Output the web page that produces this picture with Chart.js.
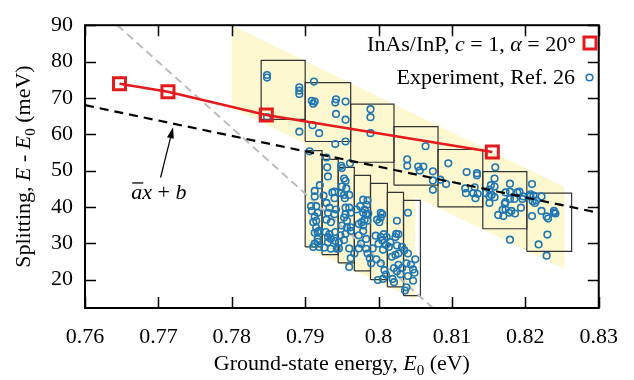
<!DOCTYPE html>
<html>
<head>
<meta charset="utf-8">
<script src="https://cdn.jsdelivr.net/npm/chart.js@4.4.1/dist/chart.umd.min.js"></script>
<style>
  html, body { margin: 0; padding: 0; background: #fff; }
</style>
</head>
<body>
<canvas id="chart" width="634" height="380"></canvas>
<script>
// axis ticks
const xTickVals = [0.76, 0.77, 0.78, 0.79, 0.80, 0.81, 0.82, 0.83];
const xTickLabels = ['0.76', '0.77', '0.78', '0.79', '0.8', '0.81', '0.82', '0.83'];
const yTickVals = [20, 30, 40, 50, 60, 70, 80, 90];

// model: InAs/InP, c = 1, alpha = 20 deg
const modelE0 = [0.7647, 0.7713, 0.7847, 0.8155];
const modelSplit = [73.9, 71.7, 65.3, 55.1];

// fit line  a x + b  and the grey guide line
const fitE0 = [0.76, 0.83];
const fitSplit = [68.0, 38.4];
const guideE0 = [0.7644, 0.8074];
const guideSplit = [90, 12.2];

// shaded bands (corners)
const bandUpperE0 = [0.78, 0.8253, 0.8253, 0.78, 0.78];
const bandUpperSplit = [90, 45.5, 22.9, 67.3, 90];
const bandLowerE0 = [0.79, 0.8050, 0.8050, 0.79, 0.79];
const bandLowerSplit = [58, 45, 14.5, 29.0, 58];

// boxes
const upperBoxEdges = [0.7840, 0.7900, 0.7962, 0.8021, 0.8081, 0.8142, 0.8202, 0.8263];
const upperBoxLow = [64.1, 58.0, 52.3, 46.0, 40.0, 34.0, 27.8];
const upperBoxHigh = [80.3, 74.2, 68.3, 62.1, 55.8, 49.7, 43.8];
const lowerBoxEdges = [0.7900, 0.7923, 0.7945, 0.7967, 0.7989, 0.8012, 0.8034, 0.8057];
const lowerBoxLow = [29.0, 26.9, 24.6, 22.4, 20.0, 18.0, 15.6];
const lowerBoxHigh = [55.5, 53.1, 50.9, 48.7, 46.5, 44.0, 41.8];

// experiment, Ref. 26
const expE0 = [
  0.7848, 0.7848, 0.7892, 0.7892, 0.7892, 0.7848, 0.7892,
  0.7912, 0.7909, 0.7911, 0.7913, 0.7942, 0.7941, 0.7955, 0.7942, 0.7955, 0.7910, 0.7919, 0.7941, 0.7955,
  0.7989, 0.7989, 0.7989,
  0.8064, 0.8039, 0.8039, 0.8054, 0.8061, 0.8056, 0.8074, 0.8074, 0.8074,
  0.8095, 0.8120, 0.8134, 0.8134, 0.8084, 0.8092, 0.8118, 0.8119, 0.8131, 0.8129, 0.8135, 0.8132,
  0.8159, 0.8158, 0.8153, 0.8158, 0.8151, 0.8179, 0.8146, 0.8151, 0.8158, 0.8154,
  0.8173, 0.8179, 0.8189, 0.8192, 0.8185, 0.8179, 0.8196, 0.8197, 0.8172, 0.8173,
  0.8151, 0.8169, 0.8173, 0.8178, 0.8181, 0.8186, 0.8163, 0.8170, 0.8194, 0.8179,
  0.8209, 0.8207, 0.8211, 0.8206, 0.8222, 0.8215, 0.8213, 0.8210, 0.8222,
  0.8209, 0.8229, 0.8231, 0.8239, 0.8241, 0.8239, 0.8230, 0.8218, 0.8229,
  0.7906, 0.7920, 0.7913, 0.7913, 0.7908, 0.7915, 0.7909, 0.7917, 0.7913, 0.7915,
  0.7911, 0.7915, 0.7919, 0.7917, 0.7913, 0.7917, 0.7917, 0.7913, 0.7911, 0.7919,
  0.7929, 0.7930, 0.7931, 0.7925, 0.7937, 0.7940, 0.7929, 0.7933, 0.7931, 0.7942, 0.7940, 0.7929,
  0.7935, 0.7928, 0.7933, 0.7931, 0.7941, 0.7935, 0.7931, 0.7926, 0.7935, 0.7943, 0.7941, 0.7940,
  0.7949, 0.7950, 0.7961, 0.7953, 0.7955, 0.7950, 0.7956, 0.7949, 0.7954, 0.7953, 0.7960, 0.7955,
  0.7960, 0.7962, 0.7955, 0.7953, 0.7957, 0.7950, 0.7962, 0.7955, 0.7953, 0.7948, 0.7957, 0.7962,
  0.7960, 0.7946, 0.7962, 0.7960, 0.7946,
  0.7979, 0.7985, 0.7984, 0.7975, 0.7981, 0.7986, 0.7970, 0.7977, 0.7979, 0.7973, 0.7985, 0.7979,
  0.7983, 0.7973, 0.7976, 0.7973, 0.7983, 0.7985, 0.7988, 0.7990, 0.7979, 0.7983, 0.7981, 0.7967,
  0.8003, 0.8003, 0.7998, 0.8001, 0.8005, 0.7996, 0.8003, 0.8005, 0.8000, 0.8007,
  0.8011, 0.7992, 0.8006, 0.7997, 0.8003, 0.8008, 0.7999, 0.8006, 0.8010, 0.8010,
  0.8025, 0.8024, 0.8016, 0.8023, 0.8027, 0.8014, 0.8025, 0.8032, 0.8023,
  0.8018, 0.8027, 0.8027, 0.8032, 0.8021, 0.8025, 0.8019, 0.8021, 0.8030,
  0.8040, 0.8035, 0.8040, 0.8038, 0.8044, 0.8047, 0.8040, 0.8047, 0.8038, 0.8036, 0.8050, 0.8049
];
const expSplit = [
  76.3, 75.6, 72.9, 72.0, 71.1, 64.7, 60.7,
  74.5, 69.2, 68.4, 69.0, 69.6, 68.7, 69.0, 65.6, 64.0, 62.5, 60.3, 57.3, 58.0,
  66.9, 64.7, 60.3,
  56.7, 53.1, 51.3, 51.1, 51.1, 50.0, 49.8, 47.3, 44.7,
  52.0, 49.6, 49.3, 48.7, 47.5, 46.3, 45.1, 43.8, 45.4, 43.8, 43.6, 42.4,
  50.9, 47.8, 46.0, 45.6, 44.8, 46.4, 43.8, 42.9, 42.7, 43.3,
  44.0, 44.2, 44.0, 44.2, 42.2, 42.2, 42.2, 42.9, 40.9, 41.3,
  41.1, 39.2, 39.3, 38.4, 38.9, 38.2, 37.8, 37.5, 39.8, 31.0,
  46.3, 43.5, 43.1, 42.9, 42.9, 41.8, 41.1, 41.6, 38.9,
  37.5, 37.4, 36.8, 38.9, 38.2, 38.4, 32.4, 29.7, 26.6,
  55.3, 46.0, 44.4, 42.9, 40.2, 40.2, 38.9, 38.4, 37.4, 36.2,
  35.8, 34.3, 33.4, 33.1, 32.9, 31.2, 30.4, 29.9, 29.0, 29.0,
  53.6, 50.9, 48.4, 43.1, 44.0, 42.4, 41.1, 39.8, 38.4, 39.3, 38.0, 36.5,
  35.8, 33.1, 32.5, 31.7, 33.1, 31.2, 30.3, 28.8, 28.5, 28.5, 30.6, 44.2,
  51.3, 50.7, 52.0, 47.8, 47.2, 45.6, 45.1, 43.8, 42.4, 43.3, 43.3, 39.8,
  39.8, 38.4, 38.0, 37.1, 36.2, 34.9, 34.4, 32.6, 30.9, 32.2, 34.3, 33.4,
  28.6, 28.6, 25.9, 23.5, 30.3,
  42.0, 41.8, 40.6, 40.2, 39.3, 38.2, 39.3, 35.8, 34.9, 35.3, 36.2, 33.4,
  31.2, 32.2, 29.9, 28.6, 28.5, 27.2, 25.9, 24.5, 38.4, 38.0, 36.5, 27.2,
  38.4, 37.1, 36.5, 35.8, 38.0, 32.1, 31.7, 30.8, 29.9, 32.5,
  31.7, 28.6, 28.2, 25.6, 24.5, 22.6, 19.9, 20.2, 21.4, 29.5,
  36.2, 32.6, 30.3, 31.7, 32.5, 29.0, 29.4, 29.0, 26.8,
  26.3, 27.2, 24.1, 23.2, 23.2, 22.3, 20.2, 19.3, 21.5,
  38.4, 28.1, 27.2, 24.5, 24.1, 22.8, 21.0, 19.7, 17.9, 17.0, 25.6, 21.9
];

// annotation anchors (data coords)
const arrowFrom = [0.7703, 48.1];
const arrowTo = [0.7720, 61.9];
const fitLabelAt = [0.7663, 42.2];

const RED = 'rgb(228,26,28)';
const BLUE = '#1f77b4';
const YELLOW = 'rgb(254,248,208)';
const SERIF = '"Liberation Serif", "Times New Roman", serif';
const FS = 22;

function pts(xs, ys) {
  return xs.map((x, i) => ({ x: x, y: ys[i] }));
}

function boxDatasets(edges, low, high) {
  return low.map((lo, i) => ({
    data: pts([edges[i], edges[i + 1], edges[i + 1], edges[i], edges[i]], [lo, lo, high[i], high[i], lo]),
    showLine: true,
    borderColor: '#333',
    borderWidth: 1.2,
    pointRadius: 0,
    fill: false,
    order: 9
  }));
}

// rich text: runs of {t, it, sub}
function runWidth(ctx, runs) {
  let w = 0;
  runs.forEach(r => {
    ctx.font = (r.it ? 'italic ' : '') + (r.sub ? 15 : FS) + 'px ' + SERIF;
    w += ctx.measureText(r.t).width;
  });
  return w;
}
function drawRuns(ctx, runs, x, y, align) {
  const w = runWidth(ctx, runs);
  let cx = align === 'right' ? x - w : align === 'center' ? x - w / 2 : x;
  const spans = [];
  ctx.textAlign = 'left';
  ctx.textBaseline = 'alphabetic';
  ctx.fillStyle = '#000';
  runs.forEach(r => {
    ctx.font = (r.it ? 'italic ' : '') + (r.sub ? 15 : FS) + 'px ' + SERIF;
    const rw = ctx.measureText(r.t).width;
    ctx.fillText(r.t, cx, y + (r.sub ? 5 : 0));
    spans.push([cx, rw]);
    cx += rw;
  });
  return spans;
}

const decor = {
  id: 'decor',
  afterDraw(chart) {
    const ctx = chart.ctx;
    const xs = chart.scales.x, ys = chart.scales.y;
    const a = chart.chartArea;
    ctx.save();

    // inward ticks on all four sides
    ctx.strokeStyle = '#000';
    ctx.lineWidth = 1.5;
    ctx.beginPath();
    xTickVals.forEach(v => {
      const p = Math.round(xs.getPixelForValue(v)) + 0.5;
      ctx.moveTo(p, a.bottom); ctx.lineTo(p, a.bottom - 11);
      ctx.moveTo(p, a.top); ctx.lineTo(p, a.top + 11);
    });
    yTickVals.forEach(v => {
      const p = Math.round(ys.getPixelForValue(v)) + 0.5;
      ctx.moveTo(a.left, p); ctx.lineTo(a.left + 11, p);
      ctx.moveTo(a.right, p); ctx.lineTo(a.right - 11, p);
    });
    ctx.stroke();

    // frame
    ctx.lineWidth = 2;
    ctx.strokeRect(a.left, a.top, a.right - a.left, a.bottom - a.top);

    // legend
    drawRuns(ctx, [{t: 'InAs/InP, '}, {t: 'c', it: true}, {t: ' = 1, '}, {t: 'α', it: true}, {t: ' = 20°'}], 576, 51, 'right');
    ctx.strokeStyle = RED;
    ctx.lineWidth = 3;
    ctx.strokeRect(584, 37, 12, 12);
    drawRuns(ctx, [{t: 'Experiment, Ref. 26'}], 575, 84, 'right');
    ctx.strokeStyle = BLUE;
    ctx.lineWidth = 1.6;
    ctx.beginPath();
    ctx.arc(589.5, 77.5, 3.3, 0, Math.PI * 2);
    ctx.stroke();

    // fit label and arrow
    const lx = xs.getPixelForValue(fitLabelAt[0]);
    const ly = ys.getPixelForValue(fitLabelAt[1]);
    const sp = drawRuns(ctx, [{t: 'a', it: true}, {t: 'x', it: true}, {t: ' + '}, {t: 'b', it: true}], lx, ly, 'left');
    ctx.strokeStyle = '#000';
    ctx.lineWidth = 1.3;
    ctx.beginPath();
    ctx.moveTo(sp[0][0] + 1, ly - 16);
    ctx.lineTo(sp[0][0] + sp[0][1] + 1, ly - 16);
    ctx.stroke();
    const x0 = xs.getPixelForValue(arrowFrom[0]), y0 = ys.getPixelForValue(arrowFrom[1]);
    const x1 = xs.getPixelForValue(arrowTo[0]), y1 = ys.getPixelForValue(arrowTo[1]);
    const ang = Math.atan2(y1 - y0, x1 - x0);
    ctx.lineWidth = 1.2;
    ctx.beginPath();
    ctx.moveTo(x0, y0);
    ctx.lineTo(x1 - 8 * Math.cos(ang), y1 - 8 * Math.sin(ang));
    ctx.stroke();
    ctx.fillStyle = '#000';
    ctx.beginPath();
    ctx.moveTo(x1, y1);
    ctx.lineTo(x1 - 11 * Math.cos(ang) + 3.5 * Math.sin(ang), y1 - 11 * Math.sin(ang) - 3.5 * Math.cos(ang));
    ctx.lineTo(x1 - 11 * Math.cos(ang) - 3.5 * Math.sin(ang), y1 - 11 * Math.sin(ang) + 3.5 * Math.cos(ang));
    ctx.closePath();
    ctx.fill();

    // axis titles
    drawRuns(ctx, [{t: 'Ground-state energy, '}, {t: 'E', it: true}, {t: '0', sub: true}, {t: ' (eV)'}],
      (a.left + a.right) / 2, 370, 'center');
    ctx.save();
    ctx.translate(30, (a.top + a.bottom) / 2);
    ctx.rotate(-Math.PI / 2);
    drawRuns(ctx, [{t: 'Splitting, '}, {t: 'E', it: true}, {t: ' - '}, {t: 'E', it: true}, {t: '0', sub: true}, {t: ' (meV)'}],
      0, 0, 'center');
    ctx.restore();

    ctx.restore();
  }
};

const datasets = [
  {
    data: pts(modelE0, modelSplit),
    showLine: true,
    borderColor: RED,
    borderWidth: 2.6,
    pointStyle: 'rect',
    pointRadius: 8.5,
    pointBorderWidth: 3,
    pointBorderColor: RED,
    pointBackgroundColor: 'rgba(0,0,0,0)',
    order: 1
  },
  {
    data: pts(fitE0, fitSplit),
    showLine: true,
    borderColor: '#000',
    borderWidth: 2.2,
    borderDash: [9, 6],
    pointRadius: 0,
    order: 2
  },
  {
    data: pts(expE0, expSplit),
    showLine: false,
    pointStyle: 'circle',
    pointRadius: 3.3,
    pointBorderWidth: 1.6,
    pointBorderColor: BLUE,
    pointBackgroundColor: 'rgba(0,0,0,0)',
    order: 3
  },
  {
    data: pts(guideE0, guideSplit),
    showLine: true,
    borderColor: '#bdbdbd',
    borderWidth: 2,
    borderDash: [8, 5],
    pointRadius: 0,
    order: 4
  },
  ...boxDatasets(upperBoxEdges, upperBoxLow, upperBoxHigh),
  ...boxDatasets(lowerBoxEdges, lowerBoxLow, lowerBoxHigh),
  {
    data: pts(bandUpperE0, bandUpperSplit),
    showLine: true,
    borderWidth: 0,
    borderColor: YELLOW,
    backgroundColor: YELLOW,
    fill: 'shape',
    pointRadius: 0,
    order: 10
  },
  {
    data: pts(bandLowerE0, bandLowerSplit),
    showLine: true,
    borderWidth: 0,
    borderColor: YELLOW,
    backgroundColor: YELLOW,
    fill: 'shape',
    pointRadius: 0,
    order: 11
  }
];

new Chart(document.getElementById('chart'), {
  type: 'scatter',
  data: { datasets: datasets },
  options: {
    responsive: false,
    animation: false,
    devicePixelRatio: 1,
    layout: { padding: { left: 0, right: 20, top: 17, bottom: 0 } },
    plugins: { legend: { display: false }, tooltip: { enabled: false } },
    scales: {
      x: {
        type: 'linear',
        min: 0.76,
        max: 0.83,
        grid: { display: false, drawTicks: false },
        border: { display: false },
        afterBuildTicks: s => { s.ticks = xTickVals.map(v => ({ value: v })); },
        afterFit: s => { s.height = 72; },
        ticks: {
          autoSkip: false,
          maxRotation: 0,
          padding: 16,
          color: '#000',
          font: { family: SERIF, size: FS },
          callback: (v, i) => xTickLabels[i]
        }
      },
      y: {
        type: 'linear',
        min: 12.2,
        max: 90,
        grid: { display: false, drawTicks: false },
        border: { display: false },
        afterBuildTicks: s => { s.ticks = yTickVals.map(v => ({ value: v })); },
        afterFit: s => { s.width = 85; },
        ticks: {
          padding: 12,
          color: '#000',
          font: { family: SERIF, size: FS },
          callback: v => String(v)
        }
      }
    }
  },
  plugins: [decor]
});
</script>
</body>
</html>
